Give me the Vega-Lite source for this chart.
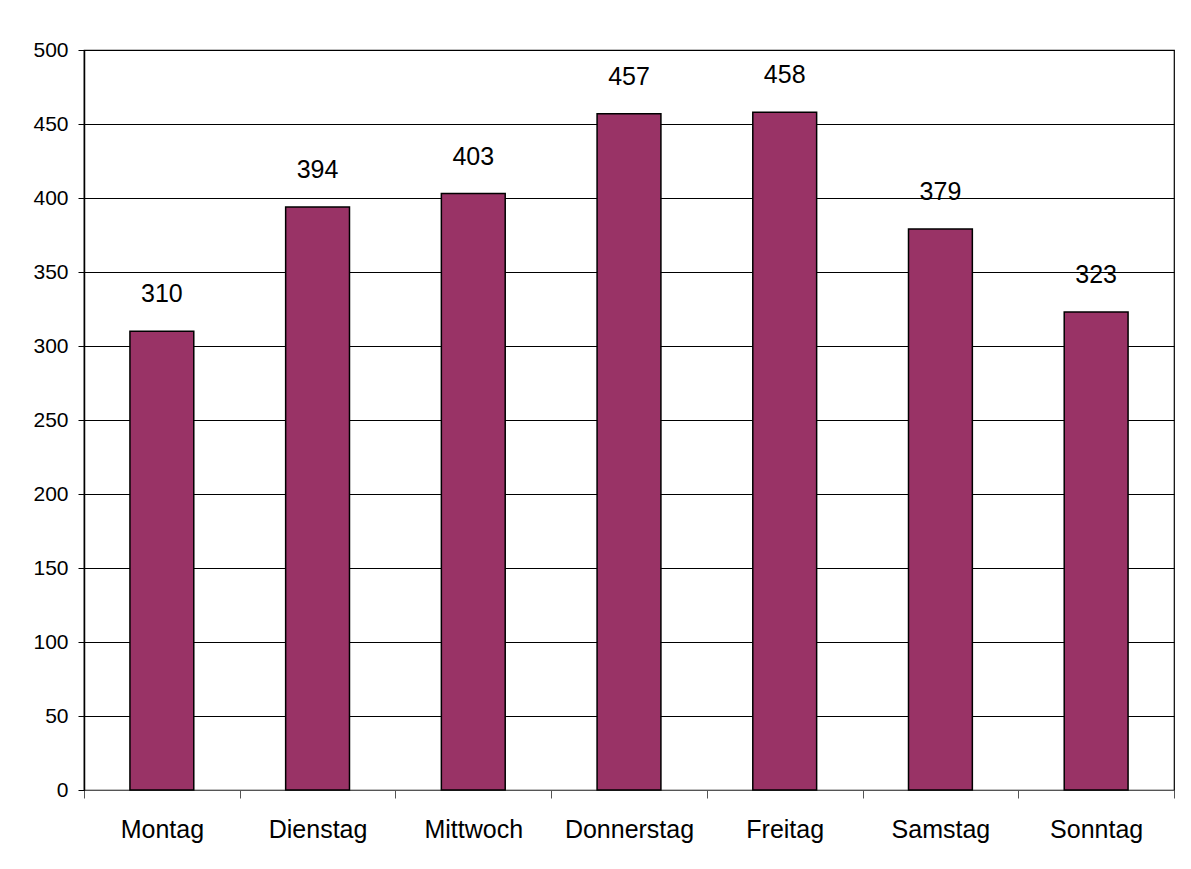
{
  "$schema": "https://vega.github.io/schema/vega-lite/v6.json",
  "autosize": {"type": "none"},
  "width": 1090,
  "height": 740,
  "padding": {"left": 84, "top": 50, "right": 17, "bottom": 79},
  "background": "white",
  "config": {
    "view": {"stroke": "black", "strokeWidth": 1.2},
    "font": "Liberation Sans"
  },
  "data": {
    "values": [
      {"Tag": "Montag", "Wert": 310},
      {"Tag": "Dienstag", "Wert": 394},
      {"Tag": "Mittwoch", "Wert": 403},
      {"Tag": "Donnerstag", "Wert": 457},
      {"Tag": "Freitag", "Wert": 458},
      {"Tag": "Samstag", "Wert": 379},
      {"Tag": "Sonntag", "Wert": 323}
    ]
  },
  "encoding": {
    "x": {
      "field": "Tag",
      "type": "nominal",
      "sort": null,
      "scale": {"paddingInner": 0, "paddingOuter": 0},
      "axis": {
        "title": null,
        "labelAngle": 0,
        "labelFontSize": 25,
        "labelColor": "black",
        "labelPadding": 19,
        "tickBand": "extent",
        "tickSize": 8,
        "tickColor": "#555",
        "domainColor": "#555",
        "grid": false
      }
    },
    "y": {
      "field": "Wert",
      "type": "quantitative",
      "scale": {"domain": [0, 500], "nice": false},
      "axis": {
        "title": null,
        "values": [0, 50, 100, 150, 200, 250, 300, 350, 400, 450, 500],
        "labelFontSize": 21,
        "labelColor": "black",
        "labelPadding": 10,
        "tickSize": 6,
        "tickColor": "black",
        "domainColor": "black",
        "domainWidth": 1.5,
        "grid": true,
        "gridColor": "black",
        "gridOpacity": 1,
        "gridWidth": 1
      }
    }
  },
  "layer": [
    {
      "mark": {"type": "bar", "fill": "#993366", "stroke": "black", "strokeWidth": 1.5, "width": {"band": 0.41}}
    },
    {
      "mark": {"type": "text", "baseline": "bottom", "dy": -24, "fontSize": 25, "color": "black"},
      "encoding": {"text": {"field": "Wert", "type": "quantitative"}}
    }
  ]
}
